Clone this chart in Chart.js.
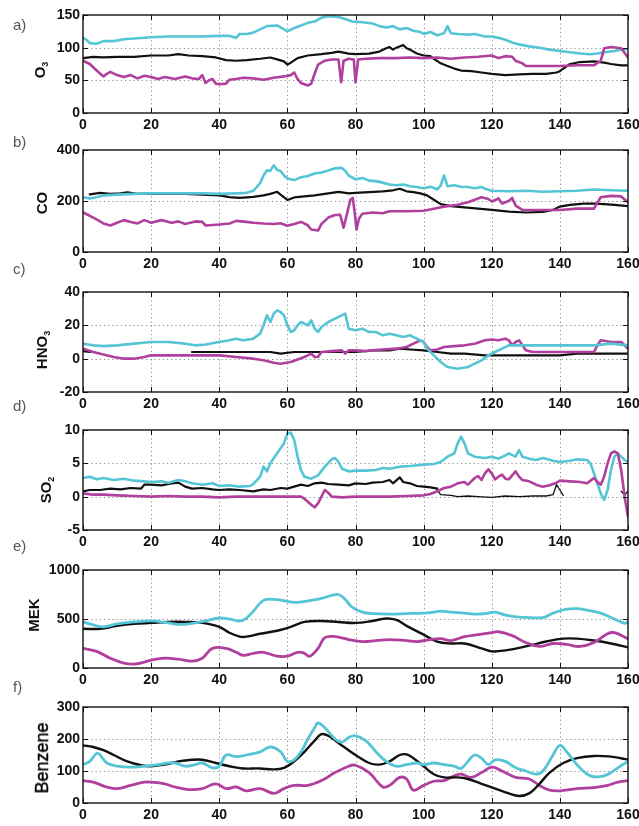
<!DOCTYPE html>
<html><head><meta charset="utf-8">
<script src="https://cdn.jsdelivr.net/npm/chart.js@4"></script>
<style>
body{margin:0;width:639px;height:826px;overflow:hidden;background:#fff;position:relative;font-family:"Liberation Sans",Arial,sans-serif}
canvas{position:absolute;left:0}
.lab{position:absolute;left:13px;font-size:15px;color:#555;line-height:1;transform:translateY(-50%)}
.tt{position:absolute;font-weight:bold;font-size:15px;color:#111;white-space:nowrap;transform:translate(-50%,-50%) rotate(-90deg);line-height:1}
.tt sub{font-size:9px;vertical-align:-3px}
</style></head><body>
<script>
// ---------- shared x axis ----------
const xTicks = [0, 20, 40, 60, 80, 100, 120, 140, 160];

// ---------- a) O3 ----------
const o3Cyan = [[0,115],[1,112],[2,107],[4,106],[6,110],[9,110],[12,113],[15,114],[20,116],[25,117],[30,117],[35,117],[40,118],[43,118],[45,115],[46,121],[48,121],[50,123],[52,128],[54,133],[57,134],[59,128],[60,125],[62,130],[64,134],[66,138],[68,140],[70,146],[72,148],[75,147],[77,144],[79,140],[82,139],[85,137],[87,133],[89,131],[91,133],[93,128],[95,130],[97,126],[99,124],[100,121],[102,124],[104,119],[106,122],[107,133],[108,122],[110,121],[113,120],[115,121],[118,117],[120,117],[122,115],[124,112],[126,108],[128,105],[131,102],[134,100],[137,97],[140,95],[143,93],[146,91],[149,90],[151,91],[153,93],[156,95],[158,97],[160,98]];
const o3Black = [[0,84],[3,86],[6,85],[10,86],[15,86],[20,88],[25,88],[28,90],[31,88],[35,87],[39,85],[42,81],[45,80],[48,81],[52,83],[55,85],[57,82],[59,79],[60,74],[61,77],[63,84],[66,88],[70,90],[73,92],[75,94],[78,91],[80,90],[84,91],[87,94],[89,99],[90,101],[91,97],[92,100],[94,104],[95,99],[96,97],[98,91],[100,88],[102,87],[103,83],[105,76],[107,72],[109,68],[111,65],[114,64],[117,62],[120,60],[124,58],[128,59],[132,60],[136,60],[139,62],[140,64],[141,68],[143,75],[146,78],[150,79],[153,77],[155,75],[158,73],[160,73]];
const o3Magenta = [[0,80],[2,75],[4,65],[6,56],[7,60],[8,63],[10,58],[12,55],[14,58],[16,53],[18,57],[20,55],[22,52],[24,55],[27,52],[30,56],[32,53],[34,52],[35,58],[36,46],[37,50],[38,52],[39,45],[40,44],[42,45],[43,51],[45,52],[47,54],[50,53],[53,51],[56,54],[59,56],[61,58],[62,62],[63,52],[64,46],[66,42],[67,45],[68,60],[69,74],[71,80],[73,82],[75,82],[75.8,47],[76.5,80],[78,83],[79.5,82],[80,47],[80.8,82],[83,83],[87,84],[92,84],[96,85],[100,84],[104,85],[108,83],[112,85],[116,86],[120,88],[122,84],[124,87],[126,86],[127,80],[129,76],[130,72],[135,72],[140,72],[145,73],[150,73],[152,80],[153,99],[155,101],[158,99],[160,85]];

// ---------- b) CO ----------
const coCyan = [[0,215],[2,210],[4,215],[6,222],[10,225],[15,228],[20,230],[25,230],[30,230],[35,230],[40,228],[45,230],[48,232],[50,240],[52,270],[53,300],[54,320],[55,318],[56,340],[57,322],[58,318],[59,300],[60,288],[62,282],[64,293],[66,298],[68,308],[70,312],[72,320],[74,328],[76,330],[77,318],[78,300],[80,285],[82,290],[84,280],[86,278],[88,272],[90,265],[92,262],[94,265],[96,258],[98,255],[100,250],[102,256],[104,246],[105,260],[106,300],[107,258],[109,262],[111,256],[113,255],[115,250],[117,255],[118,248],[120,240],[125,238],[130,240],[135,236],[140,238],[145,240],[150,245],[155,242],[160,240]];
const coBlack = [[2,226],[5,232],[8,228],[11,230],[13,234],[16,228],[20,229],[25,228],[30,228],[35,225],[40,222],[43,215],[46,212],[50,216],[53,222],[55,228],[57,236],[58,225],[60,204],[62,214],[65,218],[68,222],[70,226],[73,232],[75,236],[78,230],[80,232],[84,235],[88,238],[91,242],[93,248],[95,238],[97,235],[99,230],[101,222],[103,205],[105,188],[108,180],[112,175],[116,170],[120,165],[125,158],[130,155],[135,157],[138,165],[140,178],[143,185],[147,190],[150,190],[153,188],[156,185],[160,180]];
const coMagenta = [[0,155],[2,142],[4,128],[6,112],[8,104],[10,115],[12,125],[14,118],[16,112],[18,125],[20,115],[23,125],[26,115],[28,120],[30,110],[33,120],[35,118],[36,104],[40,108],[43,112],[45,122],[48,118],[50,115],[53,112],[56,110],[58,113],[60,103],[62,110],[64,118],[66,105],[67,88],[69,84],[70,110],[72,135],[74,145],[75.5,146],[76.5,95],[77.5,150],[78.5,205],[79.2,212],[79.8,150],[80.3,88],[81,130],[82,150],[85,155],[88,152],[90,160],[95,160],[100,162],[103,170],[106,178],[110,185],[113,195],[115,205],[117,215],[119,208],[120,198],[122,210],[123,190],[125,200],[126,212],[127,182],[129,165],[132,165],[136,165],[140,165],[145,170],[150,170],[152,215],[155,220],[158,218],[160,195]];

// ---------- c) HNO3 ----------
const hno3Cyan = [[0,9],[3,8],[6,7.5],[10,8],[15,9],[20,10],[25,10],[30,9],[33,8],[36,8.5],[40,10],[43,11],[45,12],[47,11],[50,12],[52,15],[53,20],[54,26],[55,22],[56,27],[57,29],[58,28],[59,26],[60,20],[61,16],[62,17],[63,20],[64,22],[65,21],[66,20],[67,23],[68,18],[69,16],[70,19],[72,22],[74,24],[76,26],[77,27],[78,18],[80,17],[82,18],[84,16],[86,16],[88,14],[90,15],[92,14],[94,13],[96,14],[98,12],[100,10],[101,6],[103,2],[105,-2],[107,-5],[110,-6],[113,-5],[115,-3],[117,-1],[119,2],[121,4],[123,6],[125,8],[130,8],[135,8],[140,8],[145,8],[150,8],[155,9],[160,8]];
const hno3Black = [[0,4.5],[2,4],[3,null],[32,4],[36,4],[40,4],[45,4],[50,4],[55,4],[58,3],[62,4],[66,4],[70,4],[75,4],[80,4],[85,5],[90,5],[93,6],[96,5.5],[100,5],[104,4],[108,3],[112,3],[118,2],[125,2],[130,2],[135,2],[140,2],[145,3],[150,3],[155,3],[160,3]];
const hno3Magenta = [[0,6],[3,4],[6,2.5],[9,1],[12,0],[15,0],[18,1],[20,2],[25,2],[30,2],[35,2],[40,2],[45,1],[50,0],[53,-1],[56,-2.5],[58,-3],[61,-2],[63,-0.5],[65,1],[66,2],[67,3],[68,1],[69,1],[70,4],[73,4.5],[76,5],[77,3],[78,5],[80,5],[83,4.5],[85,5],[88,5.5],[92,6],[95,7],[97,9],[99,11],[100,10],[101,7],[102,5],[104,5.5],[106,7],[109,7.5],[112,8],[115,9],[118,11],[120,11.5],[122,11],[124,12],[125,11],[126,8],[127,10],[128,11],[129,8],[130,5],[132,4],[136,4],[140,4],[145,4],[150,4],[151,8],[152,11],[155,10],[158,10],[160,6]];

// ---------- d) SO2 ----------
const so2Cyan = [[0,2.8],[2,3],[4,2.6],[6,2.8],[9,2.5],[12,2.7],[15,2.4],[18,2.3],[20,2.2],[23,2.3],[25,2.1],[28,2.5],[30,2.3],[32,2.0],[35,1.8],[38,2.0],[40,1.6],[43,1.7],[46,1.5],[49,1.6],[50,1.9],[52,3],[53,4.5],[54,3.8],[55,5],[57,6.5],[59,8],[60,9.5],[61,9.6],[62,8.5],[63,6],[64,4],[65,3],[67,2.7],[69,3.2],[71,4.5],[73,5.6],[74,5.8],[75,5.2],[76,4.2],[78,3.8],[80,3.9],[83,3.9],[86,4.0],[88,4.3],[90,4.2],[93,4.5],[96,4.6],[100,4.8],[103,4.9],[105,5.2],[107,6],[109,6.5],[110,8],[111,9],[112,8],[113,6.5],[115,6],[118,5.8],[120,6],[122,5.7],[124,6.2],[125,6.5],[127,6],[128,7],[129,6],[131,5.7],[133,5.5],[135,5.8],[138,5.4],[140,5.2],[143,5.4],[145,5.6],[148,5.5],[149,5],[150,3.5],[151,2],[152,0.5],[153,-0.5],[154,1],[155,4],[156,6],[157,6.5],[158,6],[159,5.5],[160,5.2]];
const so2Black = [[0,0.8],[2,1],[5,1],[8,1.2],[11,1.1],[14,1.3],[17,1.2],[18,1.8],[20,1.8],[23,1.7],[26,2],[28,2.1],[30,1.5],[32,1.2],[35,1.3],[38,1.1],[40,1],[43,1.1],[46,1.0],[50,0.8],[53,1.1],[55,1],[58,1.3],[60,1.2],[62,1.5],[64,1.8],[66,1.6],[68,2],[70,2.1],[72,1.9],[75,1.8],[78,1.7],[80,2],[83,1.9],[85,2.1],[88,2.2],[90,2.5],[91,2],[93,2.9],[94,2.2],[96,2.0],[98,1.6],[100,1.5],[102,1.4],[104,1.2]];
const so2BlackSparse = [[104,1.0],[105,0.3],[108,0.2],[110,0],[113,0.1],[116,0],[120,-0.1],[124,0.1],[128,0],[132,0.1],[136,0.1],[138,0.3],[139,1.8],[140,1.0],[141,0.2],[142,null],[158,0.8],[159,0.3],[160,0.8]];
const so2Magenta = [[0,0.5],[3,0.3],[6,0.3],[10,0.2],[15,0.1],[20,0],[25,0.1],[30,0],[35,0],[40,-0.1],[45,0],[50,0],[55,0],[60,0],[64,0],[65,-0.3],[67,-1.2],[68,-1.6],[69,-1],[70,0],[71,1],[72,0.6],[73,0],[76,-0.1],[80,0],[85,0],[90,0],[95,0.1],[100,0.2],[102,0.4],[104,0.8],[106,1.3],[108,1.5],[110,2],[112,2.2],[113,1.8],[115,2.8],[116,3.1],[117,2.5],[118,3.5],[119,4.1],[120,3.5],[121,2.6],[122,3],[123,3.3],[124,2.7],[125,2.6],[127,3.8],[128,3],[129,2.5],[131,2.3],[133,1.8],[135,1.5],[137,1.7],[139,2.1],[140,2.4],[143,2.3],[146,2.2],[148,2],[150,2.8],[151,2.2],[152,1.8],[153,3],[154,5],[155,6.5],[156,6.8],[157,6.5],[158,4],[159,0],[160,-3]];

// ---------- e) MEK ----------
const mekCyan = [[0,470],[3,440],[6,420],[10,450],[15,470],[20,480],[25,460],[28,445],[32,455],[36,480],[40,510],[43,500],[46,480],[48,510],[50,580],[53,690],[56,700],[60,680],[63,670],[67,690],[70,710],[73,740],[75,750],[77,700],[79,620],[82,570],[85,555],[90,550],[95,555],[100,560],[103,570],[105,580],[108,570],[112,560],[115,550],[118,555],[121,570],[124,540],[128,520],[135,515],[138,560],[142,600],[145,605],[148,590],[152,560],[156,500],[159,455],[160,470]];
const mekBlack = [[0,400],[5,400],[10,430],[15,450],[20,460],[25,470],[30,470],[35,460],[40,420],[43,360],[46,320],[48,320],[52,350],[57,380],[61,420],[65,470],[70,480],[75,470],[80,460],[85,480],[89,505],[92,490],[95,430],[100,340],[104,270],[108,250],[112,250],[117,200],[120,170],[124,180],[130,220],[136,270],[141,300],[145,300],[150,280],[155,250],[160,210]];
const mekMagenta = [[0,200],[4,170],[8,100],[12,50],[15,40],[18,60],[20,80],[24,100],[28,90],[32,70],[35,100],[38,200],[42,200],[45,160],[47,130],[50,150],[53,160],[57,120],[60,120],[63,160],[65,150],[66.5,120],[69,200],[71,310],[74,320],[78,290],[82,270],[86,280],[90,290],[95,280],[98,270],[102,290],[105,300],[108,280],[112,320],[116,340],[120,360],[122,370],[126,330],[130,260],[134,220],[138,250],[142,240],[146,220],[150,260],[154,350],[156,360],[160,300]];

// ---------- f) Benzene ----------
const benCyan = [[0,120],[2,130],[4,155],[5,150],[7,125],[10,115],[14,112],[18,115],[22,120],[25,125],[27,125],[30,115],[33,120],[35,125],[38,110],[40,115],[42,150],[45,145],[48,150],[52,160],[55,175],[58,160],[60,130],[62,135],[64,160],[66,200],[68,235],[69,250],[71,235],[74,200],[76,190],[78,205],[80,210],[83,195],[86,160],[89,130],[92,115],[95,120],[98,125],[100,120],[103,125],[106,120],[109,115],[111,108],[113,130],[115,150],[117,140],[119,120],[121,135],[124,130],[127,110],[130,100],[133,90],[135,100],[138,150],[140,180],[142,160],[145,120],[148,90],[150,82],[153,85],[155,95],[157,110],[160,130]];
const benBlack = [[0,180],[3,175],[6,165],[9,150],[13,130],[17,118],[20,115],[24,120],[28,130],[32,135],[35,135],[39,125],[43,115],[47,108],[52,108],[56,105],[59,110],[62,130],[65,160],[68,195],[70,215],[72,210],[76,180],[80,150],[84,125],[87,120],[90,130],[93,150],[95,152],[97,140],[100,115],[103,90],[106,80],[110,80],[113,75],[117,60],[121,45],[125,30],[128,22],[131,30],[134,60],[137,95],[141,125],[145,140],[150,147],[155,145],[158,140],[160,135]];
const benMagenta = [[0,70],[3,65],[7,50],[10,45],[14,55],[18,65],[20,65],[24,60],[27,50],[31,42],[35,45],[39,60],[42,45],[45,50],[48,38],[52,45],[56,30],[59,45],[62,55],[66,55],[70,70],[74,95],[78,115],[80,118],[84,95],[88,50],[90,55],[93,80],[95,75],[97,40],[100,55],[103,68],[106,70],[109,85],[111,90],[114,80],[117,95],[120,112],[123,100],[127,80],[131,75],[134,55],[137,40],[140,38],[145,45],[150,48],[154,55],[157,65],[160,70]];

// ---------- styling / layout (not data) ----------
const CYAN = '#55c5d6', MAGENTA = '#b03f9e', BLACK = '#111111';
const FONT = '"Liberation Sans", Arial, sans-serif';
const PAD_TOP = 10, XAXIS_H = 26;

const panels = [
  {letter:'a)', letterY:24, top:15, bottom:113, min:0, max:150, step:50, title:'O<sub>3</sub>', tx:41, ty:70, smooth:false,
   series:[[o3Cyan,CYAN,2.6,2],[o3Black,BLACK,2.2,1],[o3Magenta,MAGENTA,2.6,0]]},
  {letter:'b)', letterY:141, top:150, bottom:252, min:0, max:400, step:200, title:'CO', tx:41, ty:203, smooth:false,
   series:[[coCyan,CYAN,2.6,1],[coBlack,BLACK,2.2,2],[coMagenta,MAGENTA,2.6,0]]},
  {letter:'c)', letterY:268, top:292, bottom:392, min:-20, max:40, step:20, title:'HNO<sub>3</sub>', tx:43, ty:350, smooth:false,
   series:[[hno3Cyan,CYAN,2.6,0],[hno3Black,BLACK,2.2,2],[hno3Magenta,MAGENTA,2.6,1]]},
  {letter:'d)', letterY:405, top:430, bottom:530, min:-5, max:10, step:5, title:'SO<sub>2</sub>', tx:47, ty:490, smooth:false,
   series:[[so2Cyan,CYAN,2.6,1],[so2Black,BLACK,2.2,2],[so2BlackSparse,BLACK,1.3,3],[so2Magenta,MAGENTA,2.6,0]]},
  {letter:'e)', letterY:545, top:570, bottom:668, min:0, max:1000, step:500, title:'MEK', tx:33, ty:615, smooth:true,
   series:[[mekCyan,CYAN,2.8,1],[mekBlack,BLACK,2.4,2],[mekMagenta,MAGENTA,2.8,0]]},
  {letter:'f)', letterY:686, top:707, bottom:803, min:0, max:300, step:100, title:'Benzene', tx:42, ty:758, smooth:true, titleStyle:'font-weight:normal;font-size:18px;color:#000;-webkit-text-stroke:0.45px #000',
   series:[[benCyan,CYAN,2.8,0],[benBlack,BLACK,2.4,1],[benMagenta,MAGENTA,2.8,2]]}
];

const framePlugin = {
  id:'frame',
  beforeDatasetsDraw(chart){
    const {ctx, chartArea:a, scales:{x,y}} = chart;
    ctx.save();
    ctx.strokeStyle = '#8c8c8c'; ctx.lineWidth = 1; ctx.setLineDash([1.2,3]);
    x.ticks.forEach(t=>{ if(t.value>x.min && t.value<x.max){ const p=Math.round(x.getPixelForValue(t.value))+0.5; ctx.beginPath(); ctx.moveTo(p,a.top); ctx.lineTo(p,a.bottom); ctx.stroke(); }});
    y.ticks.forEach(t=>{ if(t.value>y.min && t.value<y.max){ const p=Math.round(y.getPixelForValue(t.value))+0.5; ctx.beginPath(); ctx.moveTo(a.left,p); ctx.lineTo(a.right,p); ctx.stroke(); }});
    ctx.restore();
  },
  afterDatasetsDraw(chart){
    const {ctx, chartArea:a, scales:{x,y}} = chart;
    ctx.save();
    ctx.strokeStyle = '#111'; ctx.lineWidth = 1.4; ctx.setLineDash([]);
    ctx.strokeRect(a.left, a.top, a.right-a.left, a.bottom-a.top);
    ctx.lineWidth = 1;
    const L = 5;
    x.ticks.forEach(t=>{ const p=Math.round(x.getPixelForValue(t.value))+0.5; ctx.beginPath(); ctx.moveTo(p,a.bottom); ctx.lineTo(p,a.bottom-L); ctx.moveTo(p,a.top); ctx.lineTo(p,a.top+L); ctx.stroke(); });
    y.ticks.forEach(t=>{ const p=Math.round(y.getPixelForValue(t.value))+0.5; ctx.beginPath(); ctx.moveTo(a.left,p); ctx.lineTo(a.left+L,p); ctx.moveTo(a.right,p); ctx.lineTo(a.right-L,p); ctx.stroke(); });
    ctx.restore();
  }
};

panels.forEach((P)=>{
  const cv = document.createElement('canvas');
  const h = (P.bottom - P.top) + PAD_TOP + XAXIS_H;
  cv.width = 639; cv.height = h;
  cv.style.top = (P.top - PAD_TOP) + 'px';
  cv.style.width = '639px'; cv.style.height = h + 'px';
  document.body.appendChild(cv);

  const lab = document.createElement('div');
  lab.className = 'lab'; lab.textContent = P.letter; lab.style.top = P.letterY + 'px';
  document.body.appendChild(lab);

  const tt = document.createElement('div');
  tt.className = 'tt'; tt.innerHTML = P.title; tt.style.left = P.tx + 'px'; tt.style.top = P.ty + 'px';
  if (P.titleStyle) tt.setAttribute('style', tt.getAttribute('style') + ';' + P.titleStyle);
  document.body.appendChild(tt);

  const tickFont = {family:FONT, size:14, weight:'bold'};
  new Chart(cv, {
    type:'line',
    data:{ datasets: P.series.map(([d,c,w,o])=>({data:d, borderColor:c, borderWidth:w, order:o, pointRadius:0, fill:false, spanGaps:false, tension:P.smooth?0.4:0, borderJoinStyle:'round', borderCapStyle:'round'})) },
    options:{
      responsive:false, animation:false, devicePixelRatio:1,
      layout:{padding:{top:PAD_TOP, right:11, left:0, bottom:0}},
      plugins:{legend:{display:false}, tooltip:{enabled:false}},
      events:[],
      scales:{
        x:{type:'linear', min:0, max:160,
           ticks:{stepSize:20, padding:4, font:tickFont, color:'#111', maxRotation:0, autoSkip:false,
                  callback:(v)=> xTicks.includes(v) ? String(v) : ''},
           grid:{display:false, drawTicks:false}, border:{display:false},
           afterFit(s){ s.height = XAXIS_H; s.paddingLeft = 0; s.paddingRight = 0; }},
        y:{type:'linear', min:P.min, max:P.max,
           ticks:{stepSize:P.step, padding:3, font:tickFont, color:'#111', callback:(v)=>String(v)},
           grid:{display:false, drawTicks:false}, border:{display:false},
           afterFit(s){ s.width = 83; s.paddingTop = 0; s.paddingBottom = 0; }}
      }
    },
    plugins:[framePlugin]
  });
});
</script>
</body></html>
